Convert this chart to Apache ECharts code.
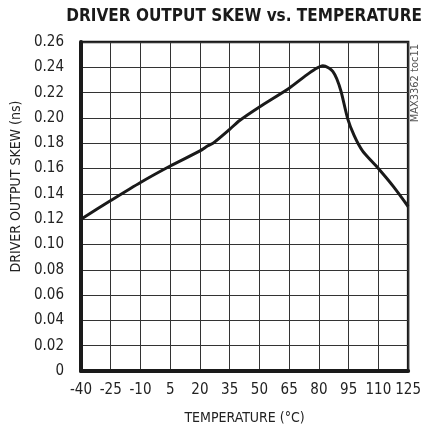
<!DOCTYPE html>
<html>
<head>
    <meta charset="UTF-8">
    <title>Driver Output Skew vs. Temperature</title>
    <script src="https://cdn.jsdelivr.net/npm/echarts@6/dist/echarts.min.js"></script>
    <style>
        body { margin: 0; background: #fff; }
        #chart { width: 424px; height: 433px; }
    </style>
</head>
<body>
<div id="chart"></div>
<script>
    // temperature (°C) and skew (ns)
    const temps = [-40, -25, -10, 5, 20, 24, 27, 35, 40, 50, 65, 73, 78, 82, 85, 87, 89, 91.2, 94.5, 97.8, 102, 110, 117.8, 125];
    const skew = [0.120, 0.1347, 0.149, 0.162, 0.174, 0.178, 0.1805, 0.191, 0.198, 0.2087, 0.2235, 0.233, 0.2385, 0.2413, 0.2395, 0.2368, 0.231, 0.2208, 0.1995, 0.186, 0.174, 0.160, 0.1453, 0.130];

    const FONT = "'Liberation Sans Narrow', 'DejaVu Sans Condensed', sans-serif";

    const chart = echarts.init(document.getElementById('chart'));
    chart.setOption({
        animation: false,
        title: {
            text: 'DRIVER OUTPUT SKEW vs. TEMPERATURE',
            right: -3,
            top: 3,
            textStyle: { fontFamily: FONT, fontWeight: 'bold', fontSize: 17, color: '#1a1a1a' }
        },
        grid: {
            left: 81, right: 13, top: 42, bottom: 62,
            show: true, borderColor: '#1a1a1a', borderWidth: 2.5
        },
        xAxis: {
            type: 'value',
            min: -40, max: 125, interval: 15,
            name: 'TEMPERATURE (°C)',
            nameLocation: 'middle',
            nameGap: 40,
            nameTextStyle: { fontFamily: FONT, fontSize: 14, color: '#222' },
            axisLine: { show: true, onZero: false, lineStyle: { color: '#1a1a1a', width: 4 } },
            axisTick: { show: false },
            axisLabel: { fontFamily: FONT, fontSize: 15, color: '#222', margin: 12 },
            splitLine: { lineStyle: { color: '#333', width: 1 } }
        },
        yAxis: {
            type: 'value',
            min: 0, max: 0.26, interval: 0.02,
            name: 'DRIVER OUTPUT SKEW (ns)',
            nameLocation: 'middle',
            nameGap: 53,
            nameTextStyle: { fontFamily: FONT, fontSize: 14, color: '#222', padding: [0, 0, 0, 40] },
            axisLine: { show: true, onZero: false, lineStyle: { color: '#1a1a1a', width: 4 } },
            axisTick: { show: false },
            axisLabel: {
                fontFamily: FONT, fontSize: 15, color: '#222', margin: 17,
                formatter: v => v === 0 ? '0' : v.toFixed(2)
            },
            splitLine: { lineStyle: { color: '#333', width: 1 } }
        },
        graphic: [{
            type: 'text',
            left: 410,
            top: 44,
            rotation: Math.PI / 2,
            style: { text: 'MAX3362 toc11', fontFamily: FONT, fontSize: 11, fill: '#555' }
        }],
        series: [{
            type: 'line',
            data: temps.map((t, i) => [t, skew[i]]),
            smooth: 0.25,
            showSymbol: false,
            lineStyle: { color: '#1a1a1a', width: 3 }
        }]
    });
</script>
</body>
</html>
